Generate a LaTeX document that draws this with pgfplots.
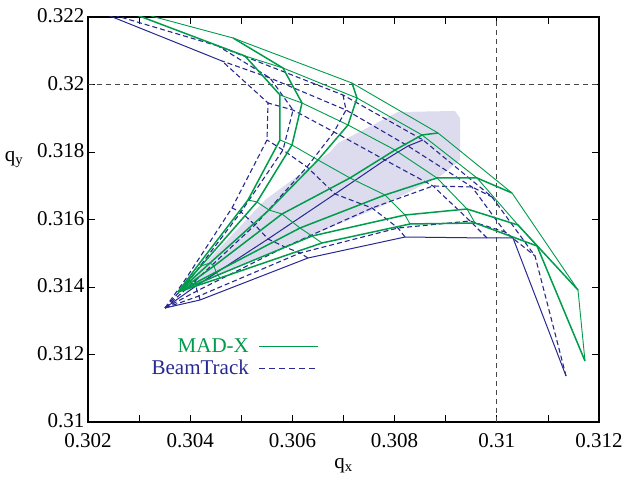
\documentclass[border=0pt]{standalone}
\usepackage{fontspec}
\setmainfont{Liberation Serif}
\usepackage{pgfplots}
\pgfplotsset{compat=1.18}
\definecolor{madx}{RGB}{0,155,75}
\definecolor{bt}{RGB}{40,40,145}
\definecolor{shadec}{RGB}{220,220,238}
\definecolor{gridc}{RGB}{70,70,70}
\begin{document}
\begin{tikzpicture}
\begin{axis}[name=ax, scale only axis, width=511pt, height=405pt,
 xmin=0.302, xmax=0.312, ymin=0.31, ymax=0.322,
 scaled ticks=false,
 xtick={0.302,0.304,0.306,0.308,0.31,0.312},
 xticklabels={0.302,0.304,0.306,0.308,0.31,0.312},
 minor xtick={0.303,0.305,0.307,0.309,0.311},
 ytick={0.31,0.312,0.314,0.316,0.318,0.32,0.322},
 yticklabels={0.31,0.312,0.314,0.316,0.318,0.32,0.322},
 tick align=inside, major tick length=7pt, minor tick length=7pt,
 tick style={black, line width=0.8pt},
 axis line style={line width=1.2pt},
 ticklabel style={font=\fontsize{21}{25}\selectfont},
 xticklabel style={yshift=-8pt},
 yticklabel style={yshift=1pt},
 every axis x label/.style={at={(rel axis cs:0.5,0)}, anchor=center, yshift=-44pt, font=\fontsize{21}{25}\selectfont},
 every axis y label/.style={at={(rel axis cs:0,0.647)}, anchor=center, xshift=-74pt, font=\fontsize{21}{25}\selectfont},
 xlabel={q\textsubscript{x}}, ylabel={q\textsubscript{y}},
 legend plot pos=right, legend cell align=right,
 legend image code/.code={\draw[#1] (0pt,0pt) -- (59pt,0pt);},
 legend style={draw=none, fill=none, at={(0.458,0.216)}, anchor=north east, font=\fontsize{21}{21}\selectfont, column sep=8pt, row sep=2pt},
]
% shaded region
\addplot[fill=shadec, draw=none, forget plot] coordinates {
(0.303840,0.313970) (0.305464,0.316578) (0.306736,0.318000) (0.306893,0.318267)
(0.308067,0.319185) (0.309182,0.319215) (0.309280,0.319007) (0.309280,0.317763)
(0.308928,0.317319) (0.307714,0.316370) (0.306149,0.315393) (0.304877,0.314593)
(0.303918,0.313852)} -- cycle;
% reference lines
\addplot[gridc, line width=0.8pt, dash pattern=on 5pt off 4pt, forget plot] coordinates {(0.31,0.31) (0.31,0.322)};
\addplot[gridc, line width=0.8pt, dash pattern=on 5pt off 4pt, forget plot] coordinates {(0.302,0.32) (0.312,0.32)};

% ---------------- BeamTrack (blue) ----------------
\pgfplotsset{btd/.style={bt, line width=1.1pt, dash pattern=on 5pt off 3pt, forget plot},
             bts/.style={bt, line width=1.0pt, forget plot}}
% rays
\addplot[bts] coordinates {(0.303507,0.313378) (0.304192,0.313615) (0.306305,0.314859) (0.308204,0.315481) (0.309808,0.315452) (0.310317,0.315452) (0.311355,0.311363)};
\addplot[btd] coordinates {(0.303507,0.313378) (0.304172,0.313733) (0.306149,0.315007) (0.308067,0.315748) (0.309476,0.315956) (0.310161,0.315630) (0.310748,0.314919)};
\addplot[btd] coordinates {(0.303507,0.313378) (0.304133,0.313882) (0.305855,0.315185) (0.307558,0.316341) (0.308752,0.316993) (0.309515,0.316963) (0.309906,0.316667)};
\addplot[bts] coordinates {(0.303507,0.313378) (0.304114,0.314030) (0.305523,0.315422) (0.306834,0.316756) (0.307812,0.317763) (0.308262,0.318178) (0.308556,0.318356)};
\addplot[btd] coordinates {(0.303507,0.313378) (0.304094,0.314178) (0.305268,0.315837) (0.306286,0.317556) (0.306814,0.318593) (0.307049,0.319244) (0.306990,0.319689)};
\addplot[btd] coordinates {(0.303507,0.313378) (0.303957,0.314148) (0.304994,0.316222) (0.305816,0.318059) (0.306012,0.319244) (0.305562,0.320193) (0.304544,0.321141)};
\addplot[btd] coordinates {(0.303507,0.313378) (0.303898,0.314207) (0.304818,0.316341) (0.305503,0.318356) (0.305523,0.319452) (0.304622,0.320696)};
\addplot[bts] coordinates {(0.304622,0.320696) (0.302039,0.322267)};
% arcs
\addplot[btd] coordinates {(0.304192,0.313615) (0.304172,0.313733) (0.304133,0.313882) (0.304114,0.314030) (0.304094,0.314178) (0.303957,0.314148) (0.303898,0.314207)};
\addplot[btd] coordinates {(0.306305,0.314859) (0.306149,0.315007) (0.305855,0.315185) (0.305523,0.315422) (0.305268,0.315837) (0.304994,0.316222) (0.304818,0.316341)};
\addplot[btd] coordinates {(0.308204,0.315481) (0.308067,0.315748) (0.307558,0.316341) (0.306834,0.316756) (0.306286,0.317556) (0.305816,0.318059) (0.305503,0.318356)};
\addplot[btd] coordinates {(0.309808,0.315452) (0.309476,0.315956) (0.308752,0.316993) (0.307812,0.317763) (0.306814,0.318593) (0.306012,0.319244) (0.305523,0.319452)};
\addplot[btd] coordinates {(0.310317,0.315452) (0.310161,0.315630) (0.309515,0.316963) (0.308262,0.318178) (0.307049,0.319244) (0.305562,0.320193) (0.304622,0.320696)};
\addplot[btd] coordinates {(0.311355,0.311363) (0.310748,0.314919) (0.309906,0.316667) (0.308556,0.318356) (0.306990,0.319689) (0.304544,0.321141) (0.302039,0.322267)};

% ---------------- MAD-X (green) ----------------
\pgfplotsset{gr/.style={madx, line width=1.5pt, forget plot},
             ga/.style={madx, line width=0.9pt, forget plot}}
% rays
\addplot[gr] coordinates {(0.303761,0.313852) (0.304583,0.314267) (0.306579,0.315304) (0.308302,0.315867) (0.309574,0.315896) (0.310787,0.315215) (0.311726,0.311807)};
\addplot[gr] coordinates {(0.303761,0.313852) (0.304544,0.314356) (0.306384,0.315511) (0.308204,0.316133) (0.309417,0.316311) (0.310415,0.315837) (0.311589,0.313911)};
\addplot[gr] coordinates {(0.303761,0.313852) (0.304505,0.314444) (0.306149,0.315748) (0.307812,0.316726) (0.308830,0.317230) (0.309613,0.317230) (0.310298,0.316785)};
\addplot[gr] coordinates {(0.303761,0.313852) (0.304466,0.314622) (0.305797,0.316163) (0.307127,0.317230) (0.308008,0.318059) (0.308536,0.318504) (0.308850,0.318563)};
\addplot[gr] coordinates {(0.303761,0.313852) (0.304388,0.314711) (0.305542,0.316281) (0.306501,0.317763) (0.307088,0.318800) (0.307264,0.319600) (0.307166,0.320044)};
\addplot[gr] coordinates {(0.303761,0.313852) (0.304211,0.314622) (0.305307,0.316519) (0.305992,0.318207) (0.306188,0.319452) (0.305816,0.320489) (0.304838,0.321378)};
\addplot[gr] coordinates {(0.303761,0.313852) (0.304172,0.314682) (0.305131,0.316578) (0.305757,0.318356) (0.305757,0.319689) (0.305073,0.320844) (0.302431,0.322356)};
% arcs
\addplot[ga] coordinates {(0.304583,0.314267) (0.304544,0.314356) (0.304505,0.314444) (0.304466,0.314622) (0.304388,0.314711) (0.304211,0.314622) (0.304172,0.314682)};
\addplot[ga] coordinates {(0.306579,0.315304) (0.306384,0.315511) (0.306149,0.315748) (0.305797,0.316163) (0.305542,0.316281) (0.305307,0.316519) (0.305131,0.316578)};
\addplot[ga] coordinates {(0.308302,0.315867) (0.308204,0.316133) (0.307812,0.316726) (0.307127,0.317230) (0.306501,0.317763) (0.305992,0.318207) (0.305757,0.318356)};
\addplot[ga] coordinates {(0.309574,0.315896) (0.309417,0.316311) (0.308830,0.317230) (0.308008,0.318059) (0.307088,0.318800) (0.306188,0.319452) (0.305757,0.319689)};
\addplot[ga] coordinates {(0.310787,0.315215) (0.310415,0.315837) (0.309613,0.317230) (0.308536,0.318504) (0.307264,0.319600) (0.305816,0.320489) (0.305073,0.320844)};
\addplot[ga] coordinates {(0.311726,0.311807) (0.311589,0.313911) (0.310298,0.316785) (0.308850,0.318563) (0.307166,0.320044) (0.304838,0.321378) (0.302431,0.322356)};

% legend
\addlegendimage{madx, line width=1.0pt}
\addlegendentry{\textcolor{madx}{MAD-X}}
\addlegendimage{bt, line width=1.0pt, dash pattern=on 6pt off 4pt}
\addlegendentry{\textcolor{bt}{BeamTrack}}
\end{axis}
\path ([shift={(-88pt,-59pt)}]ax.south west) rectangle ([shift={(28pt,17pt)}]ax.north east);
\end{tikzpicture}
\end{document}
